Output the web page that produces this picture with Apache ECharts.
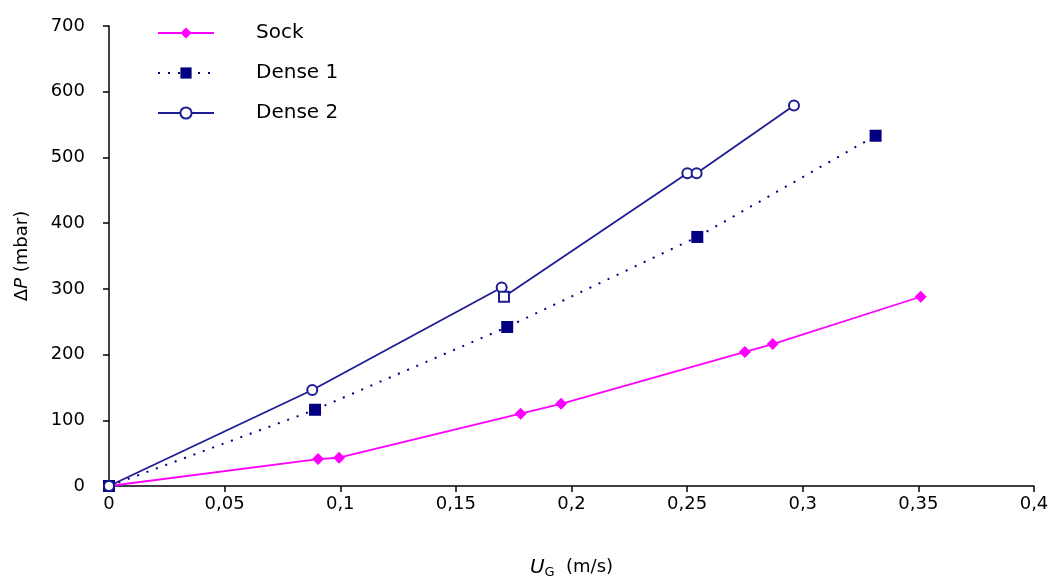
<!DOCTYPE html>
<html>
<head>
<meta charset="utf-8">
<script src="https://cdn.jsdelivr.net/npm/echarts@6/dist/echarts.min.js"></script>
<style>
html,body{margin:0;padding:0;background:#fff;}
#chart{width:1056px;height:584px;}
</style>
</head>
<body>
<div id="chart"></div>
<script>
// Data
var seriesNames = ['Sock', 'Dense 1', 'Dense 2'];
var sockX = [0, 0.0904, 0.0995, 0.178, 0.1955, 0.275, 0.287, 0.351];
var sockY = [0, 41, 43, 110, 125, 204, 216, 288];
var dense1X = [0, 0.0891, 0.1722, 0.2544, 0.3315];
var dense1Y = [0, 116, 242, 379, 533];
var dense2X = [0, 0.0879, 0.1698, 0.1708, 0.2501, 0.2541, 0.2962];
var dense2Y = [0, 146, 302, 288, 476, 476, 579];
var xTicks = ['0', '0,05', '0,1', '0,15', '0,2', '0,25', '0,3', '0,35', '0,4'];
var yTicks = ['0', '100', '200', '300', '400', '500', '600', '700'];

function pairs(xs, ys) { return xs.map(function (x, i) { return [x, ys[i]]; }); }

var font = 'DejaVu Sans';
var chart = echarts.init(document.getElementById('chart'), null, {renderer: 'canvas'});
chart.setOption({
  animation: false,
  backgroundColor: '#ffffff',
  grid: {left: 109, right: 22, top: 26, bottom: 92, containLabel: false},
  legend: {
    orient: 'vertical', left: 152, top: 18, itemGap: 20,
    itemWidth: 56, itemHeight: 14,
    textStyle: {fontFamily: font, fontSize: 20, color: '#000', padding: [0, 0, 0, 37]},
    data: seriesNames
  },
  xAxis: {
    type: 'value', min: 0, max: 0.4, interval: 0.05,
    axisLine: {lineStyle: {color: '#000', width: 1.5}},
    axisTick: {show: true, length: 6, lineStyle: {color: '#000', width: 1.5}},
    splitLine: {show: false},
    axisLabel: {
      fontFamily: font, fontSize: 18, color: '#000', margin: 9,
      formatter: function (v) { return xTicks[Math.round(v / 0.05)]; }
    },
    name: '{i|U}{sub|G}  (m/s)', nameLocation: 'middle', nameGap: 70,
    nameTextStyle: {
      fontFamily: font, fontSize: 18, color: '#000',
      rich: {
        i: {fontFamily: font, fontSize: 20, fontStyle: 'italic', color: '#000'},
        sub: {fontFamily: font, fontSize: 13, color: '#000', padding: [10, 0, 0, 0]}
      }
    }
  },
  yAxis: {
    type: 'value', min: 0, max: 700, interval: 100,
    axisLine: {show: true, lineStyle: {color: '#000', width: 1.5}},
    axisTick: {show: true, length: 6, lineStyle: {color: '#000', width: 1.5}},
    splitLine: {show: false},
    axisLabel: {
      fontFamily: font, fontSize: 18, color: '#000', margin: 24,
      formatter: function (v) { return yTicks[Math.round(v / 100)]; }
    },
    name: 'Δ{i|P} (mbar)', nameLocation: 'middle', nameGap: 78, nameRotate: 90,
    nameTextStyle: {
      fontFamily: font, fontSize: 18, color: '#000',
      rich: {i: {fontFamily: font, fontSize: 18, fontStyle: 'italic', color: '#000'}}
    }
  },
  series: [
    {
      name: seriesNames[0], type: 'line', data: pairs(sockX, sockY),
      symbol: 'diamond', symbolSize: 12, z: 3,
      lineStyle: {color: '#ff00ff', width: 1.8},
      itemStyle: {color: '#ff00ff'}
    },
    {
      name: seriesNames[1], type: 'line', data: pairs(dense1X, dense1Y),
      symbol: 'rect', symbolSize: 12, z: 4,
      lineStyle: {color: '#000080', width: 2, type: [2, 8]},
      itemStyle: {color: '#000080'}
    },
    {
      name: seriesNames[2], type: 'line',
      data: pairs(dense2X, dense2Y).map(function (p, i) {
        return i === 3 ? {value: p, symbol: 'emptyRect'} : p;
      }),
      symbol: 'emptyCircle', symbolSize: 10, z: 5,
      lineStyle: {color: '#1c1c94', width: 1.8},
      itemStyle: {color: '#1c1c94', borderWidth: 1.5}
    }
  ]
});
</script>
</body>
</html>
